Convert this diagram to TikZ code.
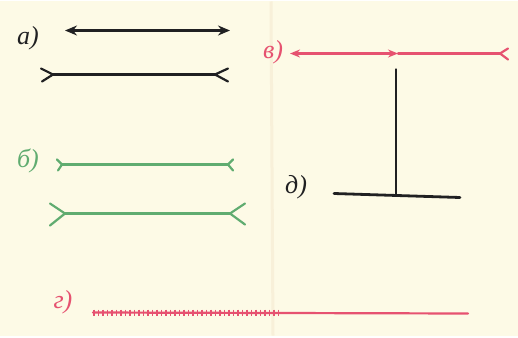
\documentclass[tikz,border=0pt]{standalone}
\usepackage{fontspec}
\newfontfamily\handfont{Liberation Serif}
\usepackage{tikz}
\usetikzlibrary{arrows.meta,positioning}
\definecolor{paper}{RGB}{253,250,230}
\definecolor{ink}{RGB}{32,32,34}
\definecolor{leaf}{RGB}{96,172,112}
\definecolor{rose}{RGB}{230,82,112}
\tikzset{
  tag/.style={font=\handfont\itshape\fontsize{13}{15}\selectfont,inner sep=0pt},
  inkline/.style={draw=ink,line width=1.4pt,line cap=round,line join=round},
  leafline/.style={draw=leaf,line width=1.1pt,line cap=round,line join=round},
  roseline/.style={draw=rose,line width=1.1pt,line cap=round,line join=round},
  dart/.tip={Stealth[length=6pt,width=5pt]},
  smalldart/.tip={Stealth[length=5pt,width=4pt]}
}

\begin{document}
\begin{tikzpicture}[x=0.5pt,y=-0.5pt]
  \fill[paper] (0,0) rectangle (518,334);
  \draw[paper!92!brown,line width=1.5pt] (271,0) -- (273,334);

  % a) arrows and fins
  \node[tag,text=ink] (tagA) at (28,37) {а)};
  \draw[inkline,dart-dart] (65,29) -- (230,29);
  \draw[inkline] (53,73) -- (215,73);
  \draw[inkline,line width=1.1pt] (41,67) -- (53,73) -- (42,80);
  \draw[inkline,line width=1.1pt] (228,67) -- (215,73) -- (228,80);

  % b) small and large fins
  \node[tag,text=leaf] (tagB) at (28,159) {б)};
  \draw[leafline] (62,163) -- (228,163);
  \draw[leafline] (57,158) -- (62,163) -- (58,169);
  \draw[leafline] (233,158) -- (228,163) -- (233,169);
  \draw[leafline] (65,212) -- (230,212);
  \draw[leafline] (50,202) -- (65,212) -- (50,224);
  \draw[leafline] (245,202) -- (230,212) -- (245,223);

  % c) split line
  \node[tag,text=rose] (tagC) at (273,51) {в)};
  \draw[roseline,smalldart-smalldart] (290,52) -- (398,52);
  \draw[roseline] (398,52) -- (500,52);
  \draw[roseline] (508,47) -- (500,52) -- (508,58);

  % d) the T figure
  \node[tag,text=ink] (tagD) at (296,186) {д)};
  \draw[inkline] (396,68) -- (396,193);
  \draw[inkline] (334,192) -- (460,196);

  % g) hatched and plain halves
  \node[tag,text=rose] (tagG) at (63,301) {г)};
  \draw[roseline] (93,311) -- (468,312);
  \foreach \x in {94,98.5,...,282}
    \draw[rose,line width=0.7pt] (\x,308) -- (\x,314);
\end{tikzpicture}
\end{document}
